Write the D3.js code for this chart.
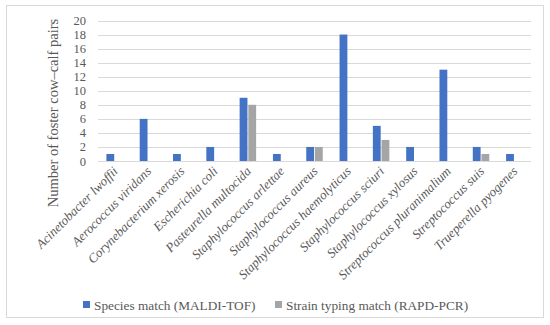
<!DOCTYPE html>
<html><head><meta charset="utf-8">
<script src="https://cdn.jsdelivr.net/npm/d3@7"></script>
<style>body{margin:0;background:#fff}svg{display:block}</style>
</head><body>
<svg id="c" width="550" height="325"></svg>
<script>
const categories = ["Acinetobacter lwoffii","Aerococcus viridans","Corynebacterium xerosis","Escherichia coli","Pasteurella multocida","Staphylococcus arlettae","Staphylococcus aureus","Staphylococcus haemolyticus","Staphylococcus sciuri","Staphylococcus xylosus","Streptococcus pluranimalium","Streptococcus suis","Trueperella pyogenes"];
const speciesMatch = [1,6,1,2,9,1,2,18,5,2,13,2,1];
const strainMatch = [0,0,0,0,8,0,2,0,3,0,0,1,0];
const yTicks = [0,2,4,6,8,10,12,14,16,18,20];
const seriesNames = ["Species match (MALDI-TOF)","Strain typing match (RAPD-PCR)"];
const colors = ["#4472C4","#A5A5A5"];

const svg = d3.select("#c");
const font = "'Liberation Serif', serif";
svg.append("rect").attr("x",6.5).attr("y",5.5).attr("width",537).attr("height",312)
  .attr("fill","#fff").attr("stroke","#d9d9d9").attr("stroke-width",1);

const x0 = 98, x1 = 531, yb = 161, yt = 20.5;
const x = d3.scaleBand().domain(categories).range([x0,x1]);
const y = d3.scaleLinear().domain([0,20]).range([yb,yt]);
const xs = d3.scaleBand().domain([0,1]).range([0,16.5]).paddingInner(0.1);

const g = svg.append("g");
g.selectAll("line.grid").data(yTicks).join("line")
  .attr("x1",x0).attr("x2",x1).attr("y1",d=>Math.round(y(d))+0.5).attr("y2",d=>Math.round(y(d))+0.5)
  .attr("stroke","#d9d9d9").attr("stroke-width",1);

const yAxis = d3.axisLeft(y).tickValues(yTicks).tickSize(0).tickPadding(12);
const ya = g.append("g").attr("transform",`translate(${x0},0)`).call(yAxis);
ya.select(".domain").remove();
ya.selectAll("text").attr("font-family",font).attr("font-size","12.5px").attr("fill","#595959");

const data = [speciesMatch, strainMatch];
categories.forEach((c,i)=>{
  data.forEach((s,k)=>{
    if(!s[i]) return;
    g.append("rect")
      .attr("x", x(c) + x.bandwidth()/2 - 8.25 + xs(k))
      .attr("y", y(s[i])).attr("width", xs.bandwidth()).attr("height", y(0)-y(s[i]))
      .attr("fill", colors[k]);
  });
});

const xAxis = d3.axisBottom(x).tickSize(0).tickPadding(0);
const xa = g.append("g").attr("transform",`translate(0,${yb})`).call(xAxis);
xa.select(".domain").remove();
xa.selectAll("text").attr("font-family",font).attr("font-size","13px").attr("font-style","italic")
  .attr("fill","#595959").attr("text-anchor","end").attr("dy",0)
  .attr("transform","translate(4,11) rotate(-45)");

svg.append("text").attr("transform",`translate(58,113) rotate(-90)`).attr("text-anchor","middle")
  .attr("font-family",font).attr("font-size","14.5px").attr("fill","#595959")
  .text("Number of foster cow–calf pairs");

const legX = [83, 275];
seriesNames.forEach((n,k)=>{
  svg.append("rect").attr("x",legX[k]).attr("y",301).attr("width",7).attr("height",7).attr("fill",colors[k]);
  svg.append("text").attr("x",legX[k]+11).attr("y",309.5).attr("font-family",font).attr("font-size","13.3px")
    .attr("fill","#595959").text(n);
});
</script>
</body></html>
